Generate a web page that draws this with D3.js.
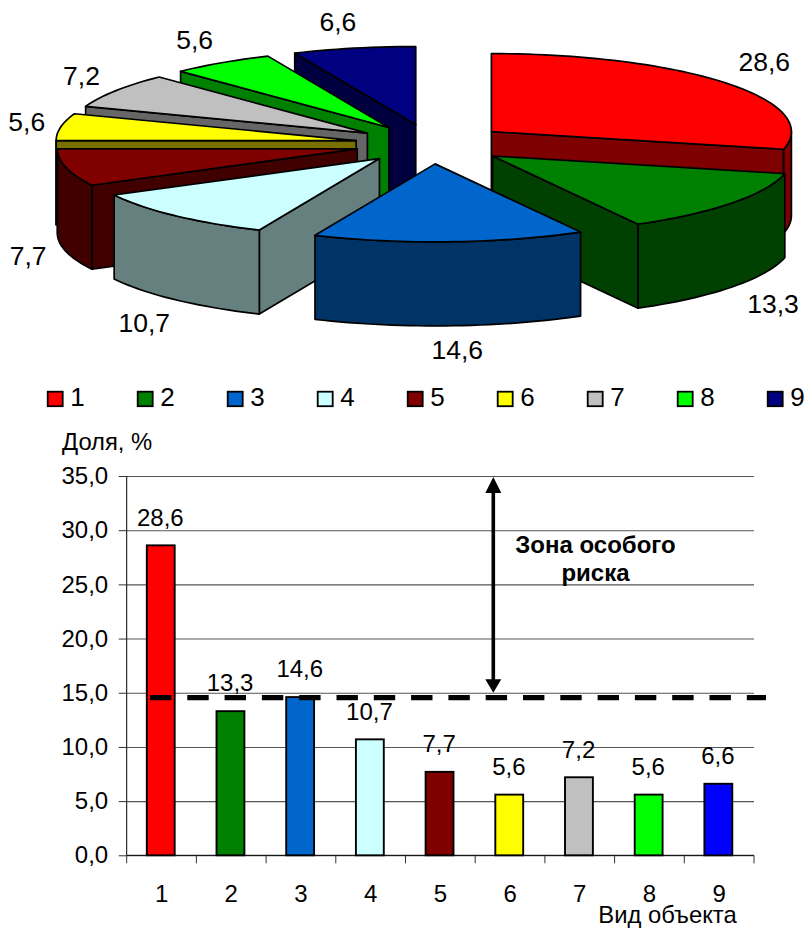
<!DOCTYPE html>
<html>
<head>
<meta charset="utf-8">
<script src="https://cdn.jsdelivr.net/npm/d3@7"></script>
<style>
  body { margin: 0; background: #fff; }
  svg { display: block; }
  text { font-family: "Liberation Sans", Arial, sans-serif; fill: #000; }
</style>
</head>
<body>
<svg id="chart"></svg>
<script>
const categories = ["1", "2", "3", "4", "5", "6", "7", "8", "9"];
const values = [28.6, 13.3, 14.6, 10.7, 7.7, 5.6, 7.2, 5.6, 6.6];
const yTicks = [0, 5, 10, 15, 20, 25, 30, 35];
const riskLevel = 14.6;

const pieColors = ["#ff0000", "#008000", "#0066cc", "#ccffff", "#800000", "#ffff00", "#c0c0c0", "#00ff00", "#000080"];
const wallColors = ["#7f0000", "#004000", "#003366", "#668080", "#400000", "#7a7000", "#666666", "#008000", "#000040"];
const barColors = ["#ff0000", "#008000", "#0066cc", "#ccffff", "#800000", "#ffff00", "#c0c0c0", "#00ff00", "#0000ff"];

// back-to-front order for the exploded pie
const drawOrder = [8, 7, 6, 5, 4, 3, 0, 1, 2];
// label shift from the slice's outer rim point
const labelShift = [[38, -12], [41, 110], [8, 117], [-31, 116], [-38, 97], [-34, 4], [-34.5, -5.5], [-27, -14], [-16, -17]];

const svg = d3.select("#chart").attr("width", 807).attr("height", 928);
const comma = d3.formatLocale({ decimal: ",", thousands: " ", grouping: [3], currency: ["", ""] });
const fmt = comma.format(".1f");

/* ---------- pie ---------- */
const pieC = { x: 431.5, y: 144, rx: 300, ry: 78, depth: 84, explode: 0.255 };
const slices = d3.pie().sort(null).value((d) => d)(values);
const pieG = svg.append("g").attr("stroke", "#000").attr("stroke-width", 1.7).attr("stroke-linejoin", "round");
const line = d3.line();

function apex(s) {
  const mid = (s.startAngle + s.endAngle) / 2;
  return [pieC.x + pieC.explode * pieC.rx * Math.sin(mid), pieC.y - pieC.explode * pieC.ry * Math.cos(mid)];
}

function rimPoints(c, a0, a1) {
  const n = Math.max(2, Math.ceil((a1 - a0) / 0.03));
  return d3.range(n + 1).map((i) => {
    const a = a0 + ((a1 - a0) * i) / n;
    return [c[0] + pieC.rx * Math.sin(a), c[1] - pieC.ry * Math.cos(a)];
  });
}

const down = (p) => [p[0], p[1] + pieC.depth];

drawOrder.forEach((i) => {
  const s = slices[i];
  const c = apex(s);
  const g = pieG.append("g");
  const wall = (pts) => g.append("path").attr("d", line(pts) + "Z").attr("fill", wallColors[i]);

  // cut faces that look towards the viewer
  if (Math.sin(s.endAngle) > 0.001) {
    const e = rimPoints(c, s.endAngle, s.endAngle)[0];
    wall([c, e, down(e), down(c)]);
  }
  if (Math.sin(s.startAngle) < -0.001) {
    const e = rimPoints(c, s.startAngle, s.startAngle)[0];
    wall([c, e, down(e), down(c)]);
  }
  // outer wall, front half only
  const a0 = Math.max(s.startAngle, Math.PI / 2);
  const a1 = Math.min(s.endAngle, (3 * Math.PI) / 2);
  if (a1 > a0) {
    const rim = rimPoints(c, a0, a1);
    wall(rim.concat(rim.map(down).reverse()));
  }
  g.append("path")
    .attr("d", line([c].concat(rimPoints(c, s.startAngle, s.endAngle))) + "Z")
    .attr("fill", pieColors[i]);
});

svg.append("g").selectAll("text").data(slices).join("text")
  .attr("text-anchor", "middle")
  .attr("font-size", 26.5)
  .attr("x", (d, i) => {
    const mid = (d.startAngle + d.endAngle) / 2;
    return apex(d)[0] + pieC.rx * Math.sin(mid) + labelShift[i][0];
  })
  .attr("y", (d, i) => {
    const mid = (d.startAngle + d.endAngle) / 2;
    return apex(d)[1] - pieC.ry * Math.cos(mid) + labelShift[i][1];
  })
  .text((d) => comma.format(".1f")(d.data));

/* ---------- legend ---------- */
const legend = svg.append("g").selectAll("g").data(categories).join("g")
  .attr("transform", (d, i) => `translate(${47.7 + i * 90},391.7)`);
legend.append("rect")
  .attr("width", 15).attr("height", 14.5)
  .attr("fill", (d, i) => pieColors[i])
  .attr("stroke", "#000").attr("stroke-width", 1.8);
legend.append("text").attr("x", 22.5).attr("y", 14.5).attr("font-size", 26).text((d) => d);

/* ---------- bars ---------- */
const plot = { left: 126.7, right: 754, top: 476, bottom: 855.3 };
const x = d3.scaleBand().domain(categories).range([plot.left, plot.right]).paddingInner(0.6).paddingOuter(0.3);
const y = d3.scaleLinear().domain([0, 35]).range([plot.bottom, plot.top]);
const step = x.step();

svg.append("g")
  .attr("transform", `translate(${plot.left},0)`)
  .call(d3.axisLeft(y).tickValues(yTicks).tickSize(-(plot.right - plot.left)).tickFormat(""))
  .call((g) => g.select(".domain").remove())
  .call((g) => g.selectAll("line").attr("stroke", "#555").attr("stroke-width", 1.1));

svg.append("g")
  .attr("transform", `translate(${plot.left},0)`)
  .call(d3.axisLeft(y).tickValues(yTicks).tickSize(8).tickPadding(10.5).tickFormat(fmt))
  .call((g) => g.selectAll("text").attr("font-size", 24).attr("font-family", null))
  .call((g) => g.selectAll("line").attr("stroke", "#333"))
  .call((g) => g.select(".domain").attr("d", `M0,${plot.top}V${plot.bottom}`).attr("stroke", "#000"));

svg.append("g")
  .attr("transform", `translate(0,${plot.bottom})`)
  .call(d3.axisBottom(x).tickSize(0).tickPadding(29.5))
  .call((g) => g.selectAll("text").attr("font-size", 24).attr("font-family", null))
  .call((g) => g.select(".domain").attr("d", `M${plot.left},0H${plot.right}`).attr("stroke", "#000"));

svg.append("g").attr("stroke", "#333")
  .selectAll("line").data(d3.range(categories.length + 1)).join("line")
  .attr("x1", (d) => plot.left + d * step).attr("x2", (d) => plot.left + d * step)
  .attr("y1", plot.bottom).attr("y2", plot.bottom + 8);

svg.append("g").selectAll("rect").data(values).join("rect")
  .attr("x", (d, i) => x(categories[i]) - 0.8)
  .attr("width", x.bandwidth())
  .attr("y", (d) => y(d))
  .attr("height", (d) => y(0) - y(d))
  .attr("fill", (d, i) => barColors[i])
  .attr("stroke", "#000").attr("stroke-width", 1.9);

svg.append("g").selectAll("text").data(values).join("text")
  .attr("text-anchor", "middle")
  .attr("font-size", 24)
  .attr("x", (d, i) => x(categories[i]) + x.bandwidth() / 2 - 1.2)
  .attr("y", (d) => y(d) - 19.7)
  .text(fmt);

// risk threshold, dashed
svg.append("line")
  .attr("x1", 150).attr("x2", 766)
  .attr("y1", y(riskLevel) + 0.5).attr("y2", y(riskLevel) + 0.5)
  .attr("stroke", "#000").attr("stroke-width", 5.2)
  .attr("stroke-dasharray", "21.4 15.9");

// double arrow for the risk zone
const arrowX = 493.3;
const arrowTop = y(35) + 1;
const arrowBottom = y(15);
svg.append("line")
  .attr("x1", arrowX).attr("x2", arrowX)
  .attr("y1", arrowTop + 10).attr("y2", arrowBottom - 10)
  .attr("stroke", "#000").attr("stroke-width", 3.6);
svg.append("path")
  .attr("d", line([[arrowX, arrowTop], [arrowX + 8, arrowTop + 16], [arrowX - 8, arrowTop + 16]]) + "Z")
  .attr("fill", "#000");
svg.append("path")
  .attr("d", line([[arrowX, arrowBottom], [arrowX + 8, arrowBottom - 13.5], [arrowX - 8, arrowBottom - 13.5]]) + "Z")
  .attr("fill", "#000");

const note = svg.append("g").attr("text-anchor", "middle").attr("font-size", 24).attr("font-weight", "bold");
note.append("text").attr("x", 595.5).attr("y", 552.7).text("Зона особого");
note.append("text").attr("x", 595.5).attr("y", 580.7).text("риска");

svg.append("text").attr("x", 62).attr("y", 450).attr("font-size", 23.8).text("Доля, %");
svg.append("text").attr("x", 667.5).attr("y", 922.5).attr("text-anchor", "middle").attr("font-size", 23.8).text("Вид объекта");
</script>
</body>
</html>
